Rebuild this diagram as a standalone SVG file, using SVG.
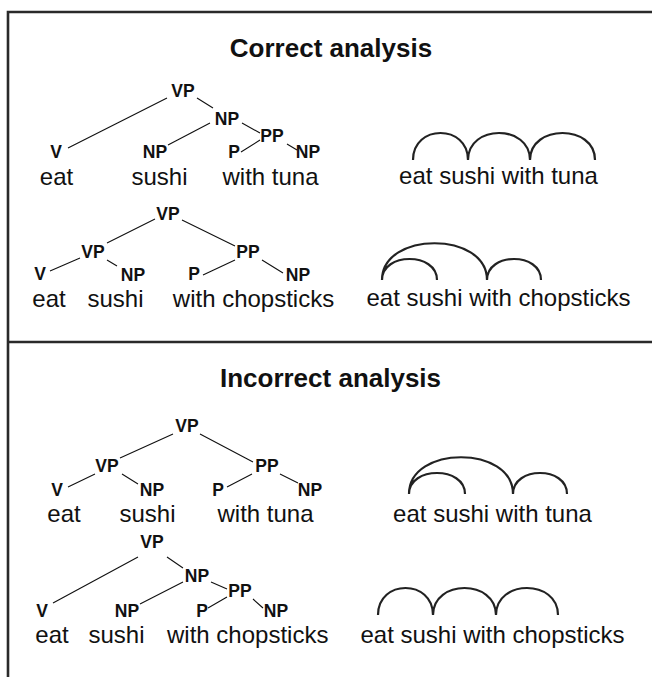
<svg xmlns="http://www.w3.org/2000/svg" width="652" height="677" viewBox="0 0 652 677">
<style>
text{font-family:"Liberation Sans",Arial,sans-serif;fill:#111;text-anchor:middle}
.t{font-size:26px;font-weight:bold}
.lab{font-size:17.5px;font-weight:bold}
.w{font-size:24px}
.e{stroke:#111;stroke-width:1.1;fill:none}
.arc{stroke:#222;stroke-width:2.2;fill:none}
.frame{stroke:#2a2a2a;stroke-width:2.6;fill:none}
</style>
<rect width="652" height="677" fill="#fff"/>
<g id="frame">
<path class="frame" d="M8 677 V12 H652 M8 342 H652"/>
</g>
<g id="titles">
<text class="t" x="331" y="57">Correct analysis</text>
<text class="t" x="330.5" y="387">Incorrect analysis</text>
</g>
<g id="tree1">
<g id="t1-vp"><text class="lab" x="183" y="97">VP</text></g>
<g id="t1-np"><text class="lab" x="227" y="125">NP</text></g>
<g id="t1-pp"><text class="lab" x="272" y="142">PP</text></g>
<g id="t1-v"><text class="lab" x="56" y="158">V</text></g>
<g id="t1-np2"><text class="lab" x="155" y="158">NP</text></g>
<g id="t1-p"><text class="lab" x="234" y="158">P</text></g>
<g id="t1-np3"><text class="lab" x="308" y="158">NP</text></g>
<text class="w" x="56.5" y="185">eat</text>
<text class="w" x="159.5" y="185">sushi</text>
<text class="w" x="270.5" y="185">with tuna</text>
</g>
<g id="tree2">
<g id="t2-vp"><text class="lab" x="168" y="220">VP</text></g>
<g id="t2-vp2"><text class="lab" x="93" y="258">VP</text></g>
<g id="t2-pp"><text class="lab" x="248" y="258">PP</text></g>
<g id="t2-v"><text class="lab" x="40" y="280">V</text></g>
<g id="t2-np"><text class="lab" x="133" y="281">NP</text></g>
<g id="t2-p"><text class="lab" x="194" y="280">P</text></g>
<g id="t2-np2"><text class="lab" x="298" y="281">NP</text></g>
<text class="w" x="49" y="307">eat</text>
<text class="w" x="115.5" y="307">sushi</text>
<text class="w" x="253.5" y="307">with chopsticks</text>
</g>
<g id="tree3">
<g id="t3-vp"><text class="lab" x="187" y="432">VP</text></g>
<g id="t3-vp2"><text class="lab" x="107" y="472">VP</text></g>
<g id="t3-pp"><text class="lab" x="267" y="472">PP</text></g>
<g id="t3-v"><text class="lab" x="57" y="496">V</text></g>
<g id="t3-np"><text class="lab" x="152" y="496">NP</text></g>
<g id="t3-p"><text class="lab" x="218" y="496">P</text></g>
<g id="t3-np2"><text class="lab" x="310" y="496">NP</text></g>
<text class="w" x="64" y="522">eat</text>
<text class="w" x="147.5" y="522">sushi</text>
<text class="w" x="265.5" y="522">with tuna</text>
</g>
<g id="tree4">
<g id="t4-vp"><text class="lab" x="152" y="548">VP</text></g>
<g id="t4-np"><text class="lab" x="197" y="582">NP</text></g>
<g id="t4-pp"><text class="lab" x="240" y="597">PP</text></g>
<g id="t4-v"><text class="lab" x="42" y="617">V</text></g>
<g id="t4-np2"><text class="lab" x="127" y="617">NP</text></g>
<g id="t4-p"><text class="lab" x="202" y="617">P</text></g>
<g id="t4-np3"><text class="lab" x="276" y="617">NP</text></g>
<text class="w" x="52" y="643">eat</text>
<text class="w" x="116.5" y="643">sushi</text>
<text class="w" x="247.7" y="643">with chopsticks</text>
</g>
<g id="deps">
<text class="w" x="498.5" y="184">eat sushi with tuna</text>
<text class="w" x="498.5" y="306">eat sushi with chopsticks</text>
<text class="w" x="492.5" y="522">eat sushi with tuna</text>
<text class="w" x="492.5" y="643">eat sushi with chopsticks</text>
</g>
<g id="connectors">
<path class="e" d="M167 98 L68 148 M197 98 L213 108 M210 123 L168 145 M242 123 L260 133 M260 140 L241 152 M287 144 L297 150"/>
<path class="e" d="M155 219 L107 243 M182 220 L235 246 M80 258 L50 271 M107 260 L117 266 M235 260 L203 275 M262 260 L283 273"/>
<path class="e" d="M173 434 L120 458 M200 434 L253 462 M95 474 L68 487 M122 474 L138 484 M252 474 L227 487 M280 474 L298 483"/>
<path class="e" d="M138 557 L53 603 M167 557 L183 568 M183 582 L140 604 M211 582 L227 589 M227 597 L208 608 M253 599 L263 608"/>
<path class="arc" d="M413 160 C413 124 468 124 468 160 C468 124 530 124 530 160 C530 124 595 124 595 160"/>
<path class="arc" d="M382 280 C382 231 487 231 487 280 M382 280 C382 252 437 252 437 280 M487 280 C487 252 541 252 541 280"/>
<path class="arc" d="M409 494 C409 445 513 445 513 494 M409 494 C409 466 465 466 465 494 M513 494 C513 466 567 466 567 494"/>
<path class="arc" d="M378 615 C378 579 433 579 433 615 C433 579 496 579 496 615 C496 579 558 579 558 615"/>
</g>
</svg>
